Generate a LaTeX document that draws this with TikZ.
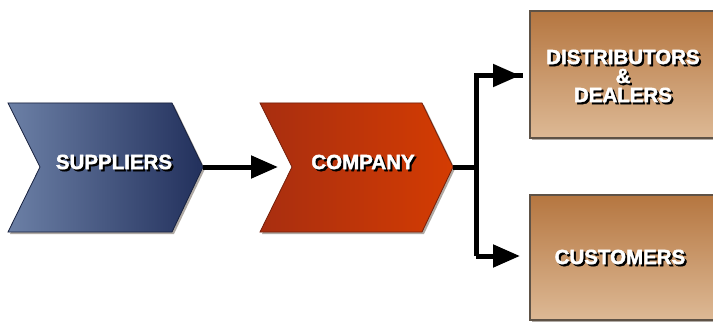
\documentclass[tikz,border=0pt]{standalone}
\usepackage{fontspec}
\setmainfont{Liberation Sans}
\newfontfamily\heavyfont[FakeBold=2]{Liberation Sans Bold}
\usetikzlibrary{arrows.meta}
\definecolor{supL}{HTML}{6C80A6}
\definecolor{supR}{HTML}{22305C}
\definecolor{comL}{HTML}{A82E10}
\definecolor{comR}{HTML}{D43C02}
\definecolor{boxT}{HTML}{B57640}
\definecolor{boxB}{HTML}{DDB995}
\definecolor{boxE}{HTML}{5E5246}
\definecolor{shd}{HTML}{B0AAA4}
\newcommand{\shadowtext}[1]{%
  \tikz[baseline=(t.base)]{\node[inner sep=0pt,text=black] at (2pt,-2pt) {#1};
  \node[inner sep=0pt,text=white] (t) at (0,0) {#1};}}
\tikzset{
  lbl/.style={font=\heavyfont\fontsize{20.5}{22}\selectfont, inner sep=0pt, align=center},
  conn/.style={line width=5pt, -{Triangle[length=27pt,width=22pt]}},
  plain/.style={line width=5pt},
  shade/.style={fill=shd}
}
\begin{document}
\begin{tikzpicture}[x=1pt,y=1pt]
\useasboundingbox (0,0) rectangle (713,322);
\clip (0,0) rectangle (713,322);
% suppliers chevron
\fill[shade] (10,217) -- (174,217) -- (205,153) -- (174,88) -- (10,88) -- (42,153) -- cycle;
\shade[left color=supL, right color=supR, draw=supR!70!black, line width=0.8pt]
  (8,219) -- (172,219) -- (203,155) -- (172,90) -- (8,90) -- (40,155) -- cycle;
% company chevron
\fill[shade] (262,217) -- (424,217) -- (455,153) -- (424,88) -- (262,88) -- (294,153) -- cycle;
\shade[left color=comL, right color=comR, draw=comL!70!black, line width=0.8pt]
  (260,219) -- (422,219) -- (453,155) -- (422,90) -- (260,90) -- (292,155) -- cycle;
% boxes
\fill[shade] (532,182) rectangle (716,309);
\shade[top color=boxT, bottom color=boxB, draw=boxE, line width=1.5pt]
  (530,184) rectangle (716,311);
\fill[shade] (532,0) rectangle (716,125);
\shade[top color=boxT, bottom color=boxB, draw=boxE, line width=1.5pt]
  (530,2) rectangle (716,127);
% nodes
\node[lbl] (sup) at (115,159) {\shadowtext{SUPPLIERS}};
\node[lbl] (com) at (364,159) {\shadowtext{COMPANY}};
\node[lbl] (dist) at (624,245) {\shadowtext{DISTRIBUTORS}\\[-3pt]\shadowtext{\&}\\[-3pt]\shadowtext{DEALERS}};
\node[lbl] (cus) at (621,64) {\shadowtext{CUSTOMERS}};
% coordinates
\coordinate (suptip) at (203,155);
\coordinate (comin) at (278,155);
\coordinate (comtip) at (453,155);
\coordinate (junc) at (476,155);
\coordinate (distin) at (520,246.5);
\coordinate (cusin) at (520,66);
% connectors
\draw[conn] (suptip) -- (comin);
\draw[plain] (comtip) -- (junc);
\draw[plain, line cap=rect] (junc) -- (junc |- distin) -- (distin);
\draw[conn] (junc |- distin) -- (distin);
\draw[plain] (junc) -- (junc |- cusin);
\draw[conn] (junc |- cusin) -- (cusin);
\end{tikzpicture}
\end{document}
